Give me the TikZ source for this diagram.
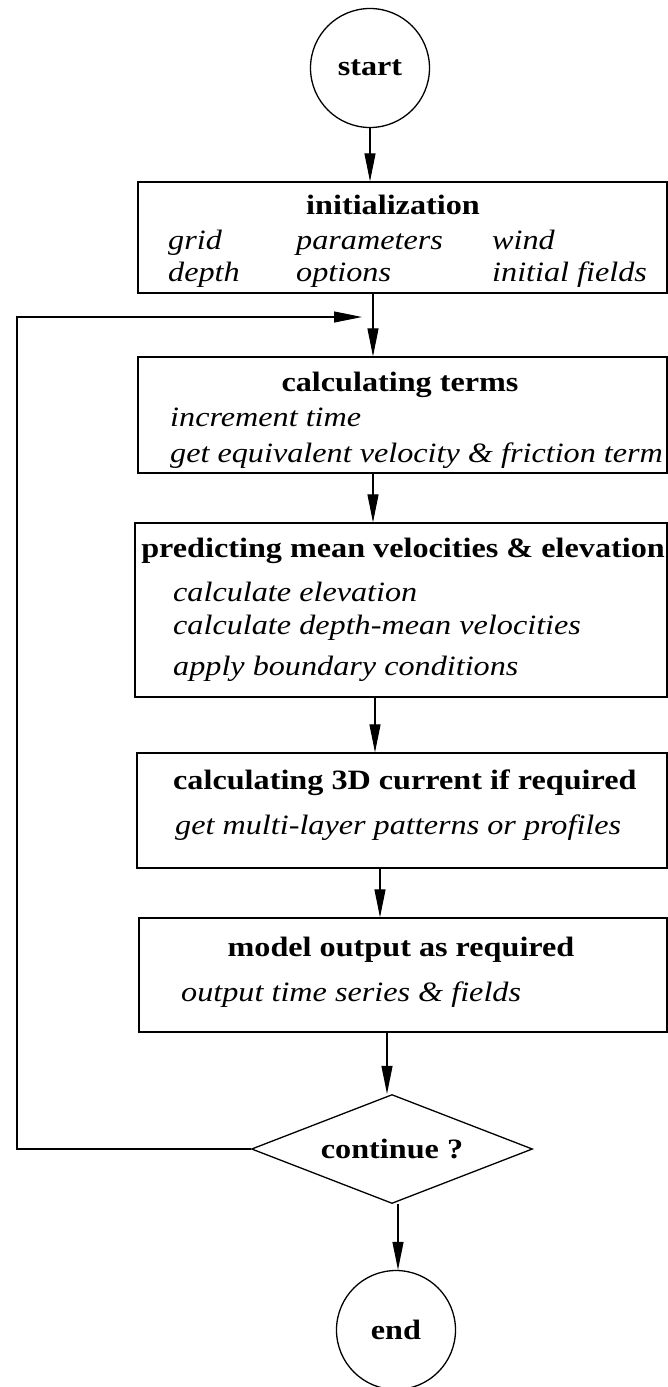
\documentclass[tikz,border=0pt]{standalone}
\usepackage{fontspec}
\setmainfont{Liberation Serif}[FakeStretch=1.15]
\usetikzlibrary{arrows.meta,shapes.geometric}
\begin{document}
\begin{tikzpicture}[x=1pt,y=-1pt,
  box/.style={draw=black, line width=1.3pt, rectangle, inner sep=0pt},
  term/.style={draw=black, line width=1.3pt, circle, inner sep=0pt, minimum size=119pt,
    font=\bfseries\fontsize{28}{32}\selectfont},
  dec/.style={draw=black, line width=1.3pt, diamond, aspect=2.58, inner sep=0pt,
    minimum width=281pt, minimum height=109pt, font=\bfseries\fontsize{28}{32}\selectfont},
  hd/.style={inner sep=0pt, anchor=base, font=\bfseries\fontsize{28}{32}\selectfont},
  it/.style={inner sep=0pt, anchor=base west, font=\itshape\fontsize{28}{32}\selectfont},
  arr/.style={line width=1.1pt, -{Triangle[length=28pt,width=11pt]}}]
\fill[white] (0,0) rectangle (668,1387);
\useasboundingbox (0,0) rectangle (668,1387);

% terminals and boxes
\node[term] (start) at (370,68) {start};
\node[box, minimum width=529pt, minimum height=111pt] (init) at (402.5,237.5) {};
\node[box, minimum width=529pt, minimum height=116pt] (calc) at (402.5,415) {};
\node[box, minimum width=532pt, minimum height=174pt] (pred) at (401,610) {};
\node[box, minimum width=530pt, minimum height=115pt] (cur) at (402,810.5) {};
\node[box, minimum width=528pt, minimum height=114pt] (out) at (403,975) {};
\node[dec] (dia) at (392,1149) {continue ?};
\node[term] (end) at (396,1330) {end};

% box texts (baselines)
\node[hd] (t1) at (393,214) {initialization};
\node[it] (t1a) at (168,249) {grid};
\node[it] (t1b) at (296,249) {parameters};
\node[it] (t1c) at (492,249) {wind};
\node[it] (t1d) at (168,281) {depth};
\node[it] (t1e) at (296,281) {options};
\node[it] (t1f) at (492,281) {initial fields};

\node[hd] (t2) at (400,391) {calculating terms};
\node[it] (t2a) at (170,426) {increment time};
\node[it] (t2b) at (170,462) {get equivalent velocity \& friction term};

\node[hd] (t3) at (403,557) {predicting mean velocities \& elevation};
\node[it] (t3a) at (173,601) {calculate elevation};
\node[it] (t3b) at (173,634) {calculate depth-mean velocities};
\node[it] (t3c) at (173,675) {apply boundary conditions};

\node[hd, anchor=base west] (t4) at (173,789) {calculating 3D current if required};
\node[it] (t4a) at (175,834) {get multi-layer patterns or profiles};

\node[hd] (t5) at (401,956) {model output as required};
\node[it] (t5a) at (181,1001) {output time series \& fields};

% trunk positions
\coordinate (x1) at (373,0);
\coordinate (x2) at (375,0);
\coordinate (x3) at (380,0);
\coordinate (x4) at (387,0);
\coordinate (x5) at (398,0);
\coordinate (loopL) at (17,0);
\coordinate (loopT) at (362,317);

% connectors
\draw[arr] (start.south) -- (start.south |- init.north);
\draw[arr] (init.south -| x1) -- (calc.north -| x1);
\draw[arr] (calc.south -| x1) -- (pred.north -| x1);
\draw[arr] (pred.south -| x2) -- (cur.north -| x2);
\draw[arr] (cur.south -| x3) -- (out.north -| x3);
\draw[arr] (out.south -| x4) -- (dia.north -| x4);
\draw[arr] (dia.south -| x5) -- (end.north -| x5);
\draw[arr] (dia.west) -- (dia.west -| loopL) |- (loopT);
\end{tikzpicture}
\end{document}
